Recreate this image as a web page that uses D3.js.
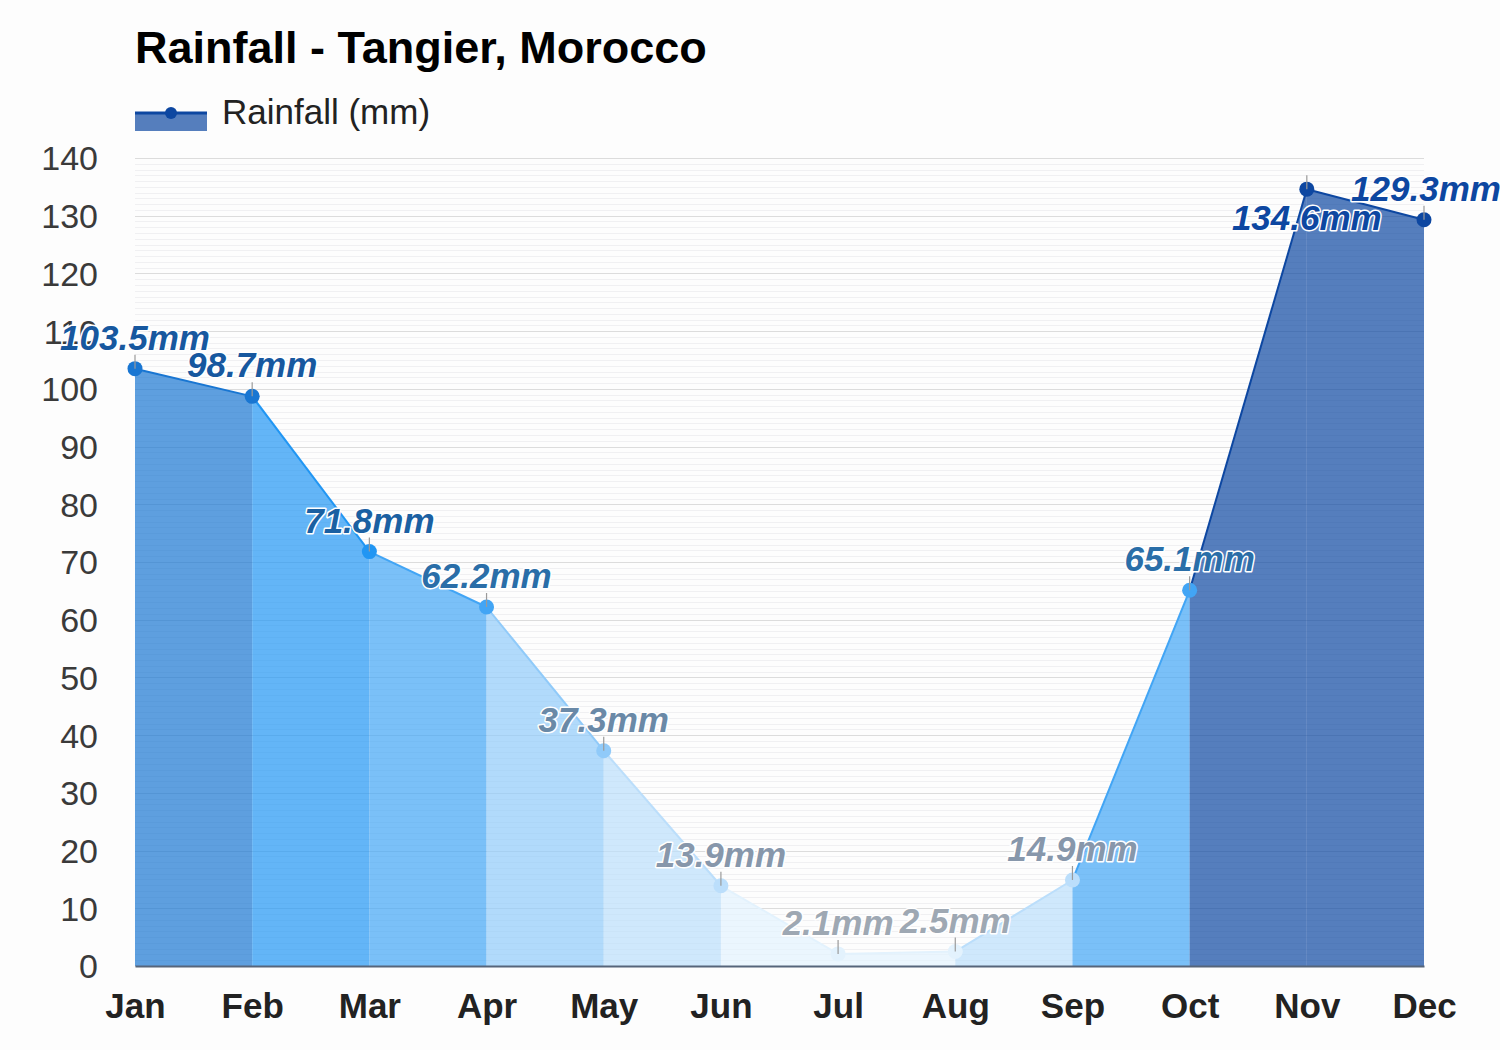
<!DOCTYPE html>
<html>
<head>
<meta charset="utf-8">
<script src="https://cdn.jsdelivr.net/npm/d3@7"></script>
<style>
  body { margin: 0; background: #fdfdfd; }
  text { font-family: "Liberation Sans", Arial, sans-serif; }
</style>
</head>
<body>
<div id="chart"></div>
<script>
// data
var months = ["Jan", "Feb", "Mar", "Apr", "May", "Jun", "Jul", "Aug", "Sep", "Oct", "Nov", "Dec"];
var rainfall = [103.5, 98.7, 71.8, 62.2, 37.3, 13.9, 2.1, 2.5, 14.9, 65.1, 134.6, 129.3];
var yTicks = [0, 10, 20, 30, 40, 50, 60, 70, 80, 90, 100, 110, 120, 130, 140];
var chartTitle = "Rainfall - Tangier, Morocco";
var seriesName = "Rainfall (mm)";

var svgWidth = 1500;
var svgHeight = 1050;

var margin = { top: 158, right: 76, bottom: 84, left: 135 };
var width = svgWidth - margin.left - margin.right;
var height = svgHeight - margin.top - margin.bottom;

var svg = d3.select("#chart")
  .append("svg")
  .attr("width", svgWidth)
  .attr("height", svgHeight);

var chartGroup = svg.append("g")
  .attr("transform", `translate(${margin.left}, ${margin.top})`);

var xScale = d3.scalePoint()
  .domain(months)
  .range([0, width]);

var yScale = d3.scaleLinear()
  .domain([0, 140])
  .range([height, 0]);

// colour by rainfall amount
var pointColor = d3.scaleThreshold()
  .domain([5, 25, 50, 70, 90, 120])
  .range(["#e3f2fd", "#bbdefb", "#90caf9", "#42a5f5", "#2196f3", "#1976d2", "#0d47a1"]);
var labelColor = d3.scaleThreshold()
  .domain([5, 25, 50, 70, 90, 120])
  .range(["#9ea8b3", "#8797ab", "#6a89a7", "#2a6ea8", "#1a60a2", "#17589f", "#0d47a1"]);

// grid lines
chartGroup.append("g")
  .selectAll("line")
  .data(d3.range(0, 141, 1))
  .enter()
  .append("line")
  .attr("x1", 0)
  .attr("x2", width)
  .attr("y1", d => Math.round(yScale(d)) + 0.5)
  .attr("y2", d => Math.round(yScale(d)) + 0.5)
  .attr("stroke", d => d % 10 === 0 ? "#dcdcdc" : "#f0f0f2")
  .attr("stroke-width", 1);

// y axis labels
var leftAxis = d3.axisLeft(yScale).tickValues(yTicks).tickSize(0).tickPadding(37);
var yAxisG = chartGroup.append("g").call(leftAxis);
yAxisG.select(".domain").remove();
yAxisG.selectAll("text")
  .style("font-size", "34px")
  .attr("fill", "#3a3a3a")
  .attr("dy", "0.35em");

// segment areas, coloured by the month on the right
var pairs = d3.range(1, months.length).map(i => [i - 1, i]);
var area = d3.area()
  .x(i => xScale(months[i]))
  .y0(height)
  .y1(i => yScale(rainfall[i]));
var line = d3.line()
  .x(i => xScale(months[i]))
  .y(i => yScale(rainfall[i]));

chartGroup.selectAll(".seg")
  .data(pairs)
  .enter()
  .append("path")
  .attr("class", "seg")
  .attr("d", d => area(d))
  .attr("fill", d => pointColor(rainfall[d[1]]))
  .attr("fill-opacity", 0.7);

chartGroup.selectAll(".segline")
  .data(pairs)
  .enter()
  .append("path")
  .attr("class", "segline")
  .attr("d", d => line(d))
  .attr("fill", "none")
  .attr("stroke", d => pointColor(rainfall[d[1]]))
  .attr("stroke-width", 2);

// x axis
var bottomAxis = d3.axisBottom(xScale).tickSize(0).tickPadding(27);
var xAxisG = chartGroup.append("g")
  .attr("transform", `translate(0, ${height})`)
  .call(bottomAxis);
xAxisG.select(".domain")
  .attr("stroke", "#56657a")
  .attr("stroke-width", 2);
xAxisG.selectAll("text")
  .style("font-size", "35px")
  .style("font-weight", "bold")
  .attr("fill", "#222");

// points
chartGroup.selectAll(".pt")
  .data(rainfall)
  .enter()
  .append("circle")
  .attr("class", "pt")
  .attr("cx", (d, i) => xScale(months[i]))
  .attr("cy", d => yScale(d))
  .attr("r", 7.5)
  .attr("fill", d => pointColor(d));

// little ticks from labels to points
chartGroup.selectAll(".lead")
  .data(rainfall)
  .enter()
  .append("line")
  .attr("class", "lead")
  .attr("x1", (d, i) => xScale(months[i]))
  .attr("x2", (d, i) => xScale(months[i]))
  .attr("y1", d => yScale(d) - 14)
  .attr("y2", d => yScale(d))
  .attr("stroke", "#9a9a9a")
  .attr("stroke-width", 1.2);

// value labels (Nov sits below its point)
chartGroup.selectAll(".val")
  .data(rainfall)
  .enter()
  .append("text")
  .attr("class", "val")
  .text(d => d + "mm")
  .attr("x", (d, i) => xScale(months[i]) + (i === 11 ? 2 : 0))
  .attr("y", (d, i) => yScale(d) + (i === 10 ? 41 : -19))
  .attr("text-anchor", "middle")
  .style("font-size", "35px")
  .style("font-weight", "bold")
  .style("font-style", "italic")
  .attr("fill", d => labelColor(d))
  .attr("stroke", "#fff")
  .attr("stroke-width", 3)
  .attr("stroke-linejoin", "round")
  .attr("paint-order", "stroke");

// title
svg.append("text")
  .attr("x", 135)
  .attr("y", 63)
  .text(chartTitle)
  .style("font-size", "45px")
  .style("font-weight", "bold")
  .attr("fill", "#000");

// legend
var legend = svg.append("g").attr("transform", "translate(135, 113)");
legend.append("rect")
  .attr("x", 0).attr("y", 0)
  .attr("width", 72).attr("height", 18)
  .attr("fill", pointColor(130))
  .attr("fill-opacity", 0.7);
legend.append("line")
  .attr("x1", 0).attr("x2", 72)
  .attr("y1", 0).attr("y2", 0)
  .attr("stroke", pointColor(130))
  .attr("stroke-width", 3);
legend.append("circle")
  .attr("cx", 36).attr("cy", 0).attr("r", 6)
  .attr("fill", pointColor(130));
legend.append("text")
  .attr("x", 87)
  .attr("y", 11)
  .text(seriesName)
  .style("font-size", "35px")
  .attr("fill", "#222");
</script>
</body>
</html>
